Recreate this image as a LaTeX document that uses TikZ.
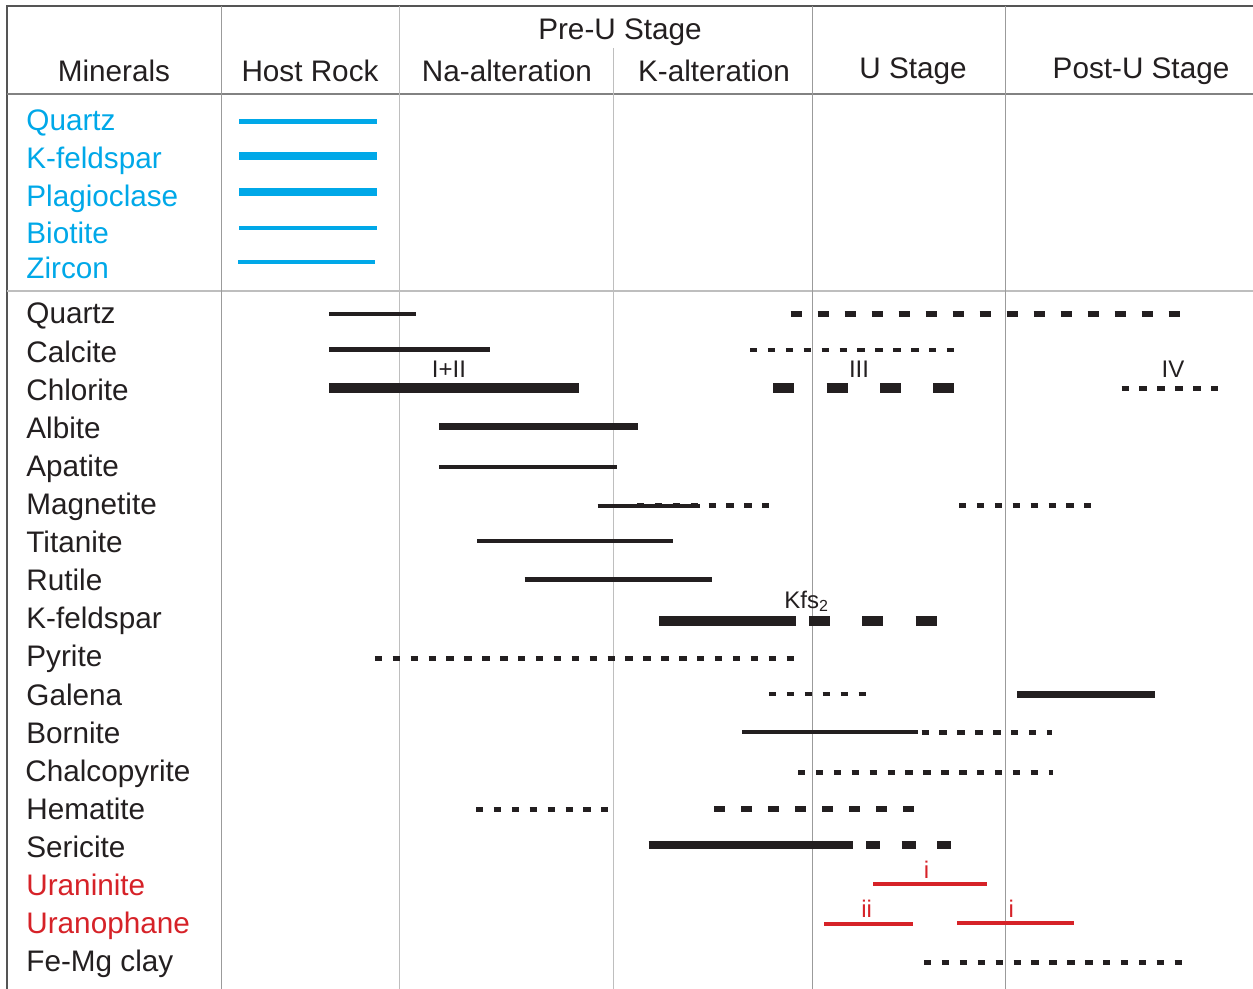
\documentclass[tikz,border=0pt]{standalone}
\usepackage{fontspec}
\setmainfont{Liberation Sans}
\definecolor{hostblue}{RGB}{0,168,232}
\definecolor{urred}{RGB}{214,34,40}
\definecolor{inkblack}{RGB}{35,31,32}
\definecolor{framegray}{RGB}{85,85,85}
\definecolor{rulegray}{RGB}{130,130,130}
\definecolor{gridgray}{RGB}{190,190,190}

\begin{document}
\begin{tikzpicture}[x=0.5pt,y=-0.5pt,
    heading/.style={anchor=base,inner sep=0pt,font=\fontsize{14.85}{16}\selectfont,text=inkblack},
    mineral/.style={anchor=base west,inner sep=0pt,font=\fontsize{14.85}{16}\selectfont,text=inkblack},
    tag/.style={anchor=base,inner sep=0pt,font=\fontsize{12}{14}\selectfont,text=inkblack},
    solidbar/.style={draw=inkblack,line width=#1},
    solidbar/.default=2pt,
    hostbar/.style={draw=hostblue,line width=#1},
    urbar/.style={draw=urred,line width=2pt},
    dotbar/.style={draw=inkblack,line width=2.4pt,dash pattern=on 3.7pt off 5.25pt},
    heavydots/.style={draw=inkblack,line width=2.75pt,dash pattern=on 5.5pt off 8pt},
    midblocks/.style={draw=inkblack,line width=4pt,dash pattern=on 7pt off 10.8pt},
    blockbar/.style={draw=inkblack,line width=5pt,dash pattern=on 10.5pt off 16.15pt}]
    \useasboundingbox (0,0) rectangle (1253,989); %picture frame
    % table lines
    \draw[framegray,line width=0.75pt] (1253,6) -- (7,6) -- (7,989); %outer border
    \draw[rulegray,line width=0.6pt] (7,94) -- (1253,94); %below the headings
    \draw[gridgray,line width=0.6pt] (7,291) -- (1253,291); %below the host rock block
    \draw[rulegray!80,line width=0.5pt] (221,6) -- (221,989); %minerals | host rock
    \draw[gridgray,line width=0.5pt] (399,6) -- (399,989); %host rock | Na
    \draw[gridgray,line width=0.5pt] (613,48) -- (613,989); %Na | K
    \draw[rulegray!80,line width=0.5pt] (812,6) -- (812,989); %pre-U | U
    \draw[rulegray!80,line width=0.5pt] (1005,6) -- (1005,989); %U | post-U
    % headings
    \node[heading] (minerals) at (114,82) {Minerals};
    \node[heading] (hostrock) at (310,82) {Host Rock};
    \node[heading] (preu) at (620,40) {Pre-U Stage};
    \node[heading] (naalt) at (507,82) {Na-alteration};
    \node[heading] (kalt) at (714,82) {K-alteration};
    \node[heading] (ustage) at (913,79) {U Stage};
    \node[heading] (postu) at (1141,79) {Post-U Stage};
    % host rock minerals
    \node[mineral,text=hostblue] (hqtz) at (26,130.5) {Quartz};
    \node[mineral,text=hostblue] (hkfs) at (26,168.5) {K-feldspar};
    \node[mineral,text=hostblue] (hpl) at (26,207) {Plagioclase};
    \node[mineral,text=hostblue] (hbt) at (26,243.5) {Biotite};
    \node[mineral,text=hostblue] (hzrn) at (26,279) {Zircon};
    \draw[hostbar=2.5pt] (239,121.5) -- (377,121.5); %quartz
    \draw[hostbar=4pt] (239,156.5) -- (377,156.5); %K-feldspar
    \draw[hostbar=4pt] (239,192.5) -- (377,192.5); %plagioclase
    \draw[hostbar=2pt] (239,228) -- (377,228); %biotite
    \draw[hostbar=2pt] (238,262) -- (375,262); %zircon
    % hydrothermal minerals
    \node[mineral] (qtz) at (26,324) {Quartz};
    \node[mineral] (cal) at (26,362.1) {Calcite};
    \node[mineral] (chl) at (26,400.2) {Chlorite};
    \node[mineral] (ab) at (26,438.3) {Albite};
    \node[mineral] (ap) at (26,476.4) {Apatite};
    \node[mineral] (mag) at (26,514.5) {Magnetite};
    \node[mineral] (ttn) at (26,552.6) {Titanite};
    \node[mineral] (rt) at (26,590.7) {Rutile};
    \node[mineral] (kfs) at (26,628.8) {K-feldspar};
    \node[mineral] (py) at (26,666.9) {Pyrite};
    \node[mineral] (gn) at (26,705) {Galena};
    \node[mineral] (bn) at (26,743.1) {Bornite};
    \node[mineral] (ccp) at (25,781.2) {Chalcopyrite};
    \node[mineral] (hem) at (26,819.3) {Hematite};
    \node[mineral] (ser) at (26,857.4) {Sericite};
    \node[mineral,text=urred] (urn) at (26,895.5) {Uraninite};
    \node[mineral,text=urred] (urp) at (26,933.6) {Uranophane};
    \node[mineral] (femg) at (26,971.7) {Fe-Mg clay};
    % bars
    \draw[solidbar] (329,314) -- (416,314); %quartz
    \draw[heavydots] (790.5,314) -- (1179.5,314);
    \draw[solidbar=2.5pt] (329,350) -- (489.5,350); %calcite
    \draw[dotbar] (750,350) -- (954,350);
    \draw[solidbar=5pt] (329,388.5) -- (578.5,388.5); %chlorite
    \draw[blockbar] (773.4,388.5) -- (954.3,388.5);
    \draw[dotbar] (1121.5,388.5) -- (1218.5,388.5);
    \node[tag] (chlA) at (449,378) {I+II};
    \node[tag] (chlB) at (859,378) {III};
    \node[tag] (chlC) at (1173,378) {IV};
    \draw[solidbar=3.5pt] (439,426.5) -- (637.5,426.5); %albite
    \draw[solidbar] (439,467.5) -- (616.7,467.5); %apatite
    \draw[solidbar] (597.5,505.5) -- (700,505.5); %magnetite
    \draw[dotbar] (636.9,505.5) -- (769.2,505.5);
    \draw[dotbar] (959,505.5) -- (1091.3,505.5);
    \draw[solidbar] (477,541) -- (672.6,541); %titanite
    \draw[solidbar=2.5pt] (524.5,579.3) -- (711.6,579.3); %rutile
    \draw[solidbar=5pt] (659,621) -- (796,621); %K-feldspar
    \draw[blockbar] (809,621) -- (936.6,621);
    \node[tag,anchor=base west] (kfsB) at (784,608) {Kfs\textsubscript{2}};
    \draw[dotbar] (374.8,658.7) -- (793.5,658.7); %pyrite
    \draw[dotbar] (769,694) -- (865.5,694); %galena
    \draw[solidbar=3.5pt] (1017,694) -- (1154.5,694);
    \draw[solidbar] (742,732.3) -- (917.6,732.3); %bornite
    \draw[dotbar] (921.5,732.3) -- (1052,732.3);
    \draw[dotbar] (798,772.7) -- (1053,772.7); %chalcopyrite
    \draw[dotbar] (476,809.3) -- (608.3,809.3); %hematite
    \draw[heavydots,line width=3pt] (714,809) -- (914,809);
    \draw[solidbar=4pt] (648.6,845.3) -- (853,845.3); %sericite
    \draw[midblocks] (866,845.3) -- (951.2,845.3);
    \draw[urbar] (873,883.7) -- (986.8,883.7); %uraninite
    \node[tag,text=urred] (urnA) at (926.6,878) {i};
    \draw[urbar] (824,924.3) -- (913,924.3); %uranophane
    \node[tag,text=urred] (urpB) at (866.7,917) {ii};
    \draw[urbar] (957.4,923) -- (1073.5,923);
    \node[tag,text=urred] (urpA) at (1011.4,917) {i};
    \draw[dotbar] (924,962.3) -- (1181.6,962.3); %Fe-Mg clay
\end{tikzpicture}
\end{document}
